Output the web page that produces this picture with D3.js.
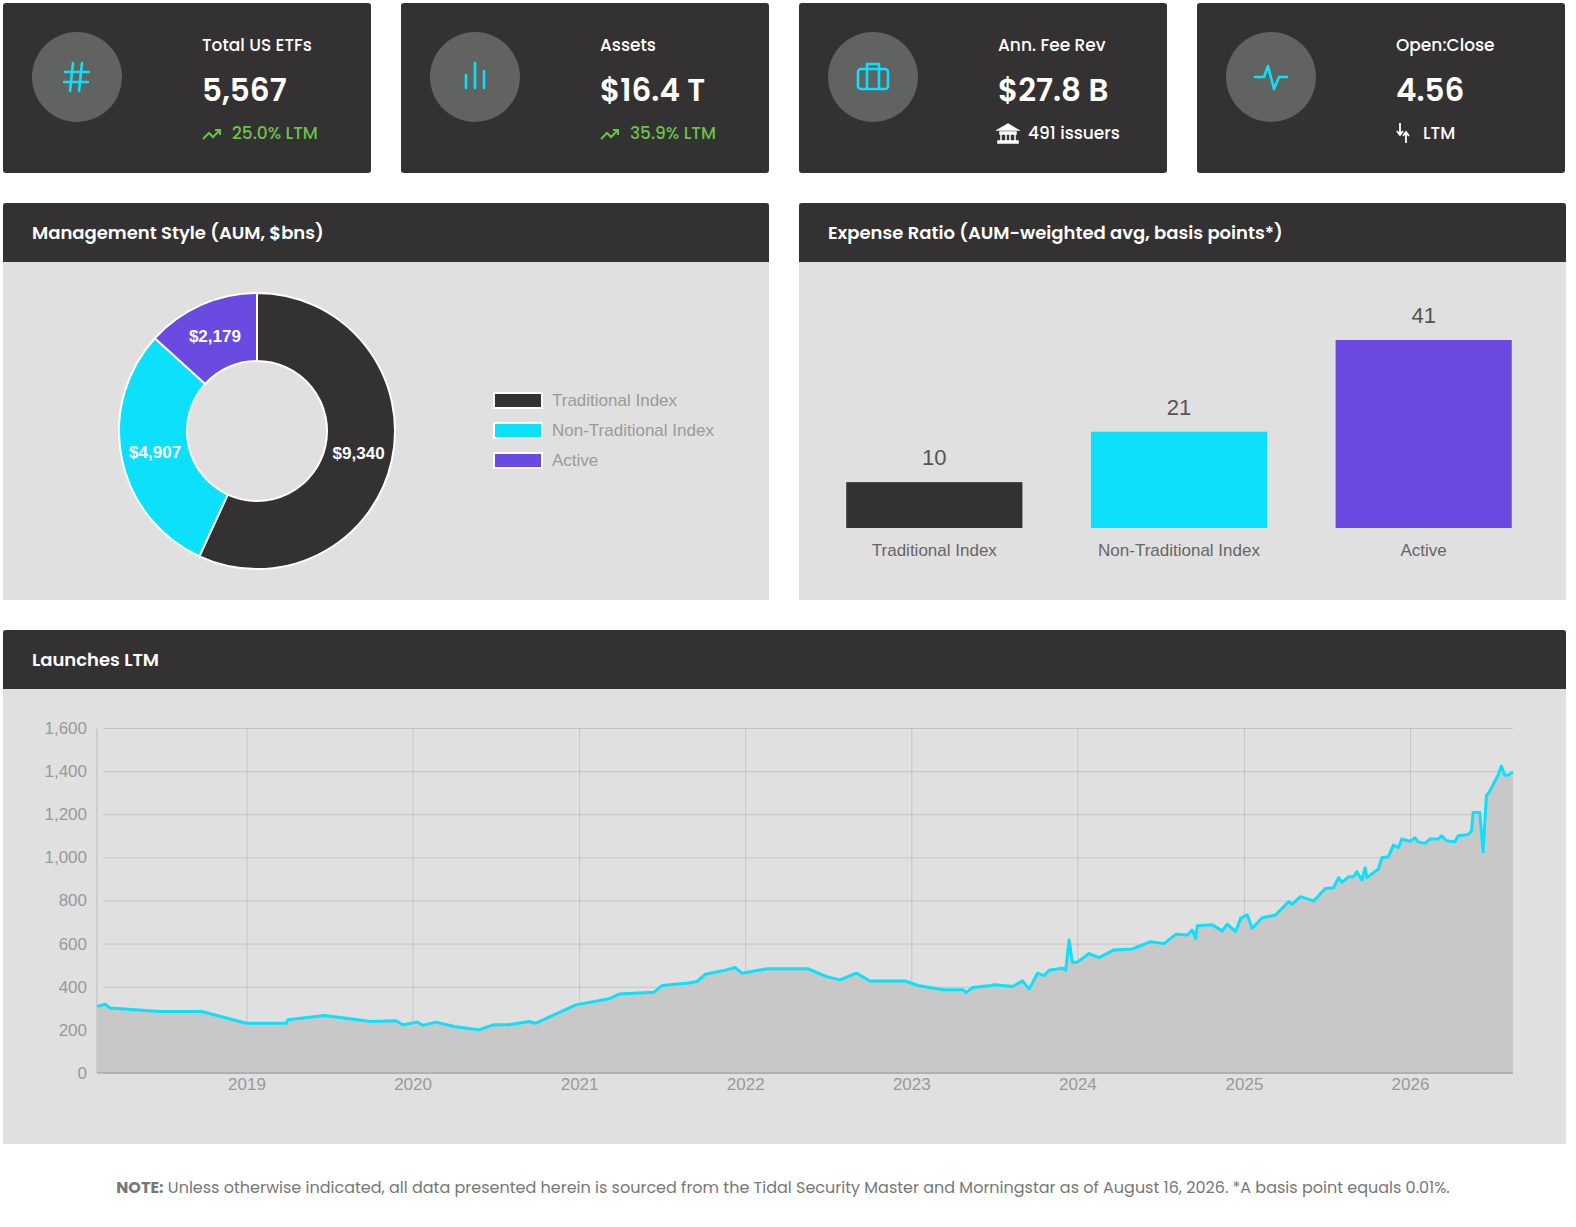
<!DOCTYPE html>
<html><head><meta charset="utf-8">
<script src="https://cdn.jsdelivr.net/npm/d3@7"></script>
<style>body{margin:0;background:#fff;}svg{display:block;}</style>
</head><body>
<div id="dash"></div>
<script>
// card stats
const cardTitles = ["Total US ETFs", "Assets", "Ann. Fee Rev", "Open:Close"];
const cardValues = ["5,567", "$16.4 T", "$27.8 B", "4.56"];
const cardSubs = ["25.0% LTM", "35.9% LTM", "491 issuers", "LTM"];

// management style (AUM, $bns)
const styleNames = ["Traditional Index", "Non-Traditional Index", "Active"];
const styleAum = [9340, 4907, 2179];
const styleColors = ["#333132", "#0ce0fa", "#6a4ae0"];

// expense ratio bps
const expenseBps = [10, 21, 41];

// launches LTM (decimal year, count)
const launchYears = [2018.10,2018.15,2018.18,2018.48,2018.73,2019.0,2019.24,2019.25,2019.47,2019.75,2019.90,2019.94,2020.03,2020.06,2020.14,2020.25,2020.35,2020.40,2020.49,2020.58,2020.70,2020.74,2020.98,2021.18,2021.24,2021.45,2021.50,2021.66,2021.71,2021.76,2021.88,2021.94,2021.98,2022.13,2022.38,2022.49,2022.57,2022.67,2022.75,2022.96,2023.04,2023.11,2023.19,2023.31,2023.33,2023.37,2023.48,2023.50,2023.61,2023.67,2023.71,2023.76,2023.80,2023.83,2023.91,2023.93,2023.95,2023.97,2024.0,2024.07,2024.13,2024.22,2024.33,2024.44,2024.52,2024.59,2024.66,2024.69,2024.71,2024.72,2024.81,2024.87,2024.90,2024.95,2024.98,2025.02,2025.05,2025.11,2025.19,2025.27,2025.29,2025.34,2025.42,2025.49,2025.54,2025.57,2025.59,2025.63,2025.66,2025.68,2025.71,2025.73,2025.74,2025.81,2025.83,2025.87,2025.90,2025.93,2025.95,2026.0,2026.03,2026.05,2026.09,2026.12,2026.17,2026.19,2026.22,2026.27,2026.29,2026.35,2026.37,2026.38,2026.42,2026.44,2026.46,2026.48,2026.53,2026.55,2026.57,2026.59,2026.62];
const launchCounts = [309,319,301,285,285,231,231,247,267,239,242,224,236,221,236,216,205,201,224,224,239,231,316,344,366,375,406,417,424,458,477,489,463,483,483,447,432,463,427,427,406,397,386,386,373,397,406,409,401,427,389,463,452,477,486,477,617,514,514,554,535,571,575,609,600,643,640,663,625,683,687,659,690,656,717,733,671,720,733,795,782,818,798,856,859,906,884,910,910,933,895,952,906,946,998,1003,1057,1045,1085,1075,1091,1072,1065,1085,1085,1100,1077,1072,1100,1106,1122,1208,1208,1026,1285,1307,1381,1424,1381,1381,1396];
const yTicks = [0,200,400,600,800,1000,1200,1400,1600];

const W = 1576, H = 1227;
const dark = "#333132", panelBg = "#e0e0e0";
const headFont = "Poppins, Inter, 'Noto Sans', sans-serif";
const chartFont = "'Liberation Sans', Arial, sans-serif";

const svg = d3.select("#dash").append("svg").attr("width", W).attr("height", H);

// ---- cards
const cardX = [3, 401, 799, 1197];
cardX.forEach((cx, i) => {
  const g = svg.append("g").attr("transform", `translate(${cx},3)`);
  g.append("rect").attr("width", 368).attr("height", 170).attr("rx", 3).attr("fill", dark);
  g.append("circle").attr("cx", 74).attr("cy", 74).attr("r", 45).attr("fill", "#616361");
  const ic = g.append("g").attr("transform", "translate(74,74)").attr("stroke", "#0ce0fa").attr("fill", "none").attr("stroke-width", 2.6).attr("stroke-linecap", "round");
  if (i == 0) {
    ic.append("path").attr("d", "M-4,-14 L-7,14 M5,-14 L2,14 M-12,-5 L12,-5 M-13,5 L11,5");
  } else if (i == 1) {
    ic.append("path").attr("d", "M-9,-2 L-9,11 M0,-14 L0,11 M9,-6 L9,11");
  } else if (i == 2) {
    ic.append("rect").attr("x", -15).attr("y", -8).attr("width", 30).attr("height", 20).attr("rx", 3);
    ic.append("path").attr("d", "M-6,-8 L-6,-13 L6,-13 L6,-8 M-6,-8 L-6,12 M6,-8 L6,12");
  } else {
    ic.append("path").attr("d", "M-16,0 L-7,0 L-3,-11 L3,12 L8,0 L16,0").attr("stroke-linejoin", "round");
  }
  g.append("text").attr("x", 199).attr("y", 48).attr("fill", "#fff").style("font", `500 17px ${headFont}`).text(cardTitles[i]);
  g.append("text").attr("x", 199).attr("y", 98).attr("fill", "#fff").style("font", `600 31px ${headFont}`).text(cardValues[i]);
  const green = i < 2;
  const sub = g.append("g").attr("transform", "translate(199,130)");
  if (green) {
    sub.append("path").attr("d", "M1,6 L7,0 L11,4 L18,-3 M13,-3 L18,-3 L18,2").attr("fill", "none").attr("stroke", "#6cc04a").attr("stroke-width", 2);
  } else if (i == 2) {
    sub.append("path").attr("d", "M0,-3 L10,-9 L20,-3 Z M2,-1 L18,-1 L18,1 L2,1 Z M0,8 L20,8 L20,10 L0,10 Z M3,1 L3,8 M8,1 L8,8 M12,1 L12,8 M17,1 L17,8").attr("fill", "#fff").attr("stroke", "#fff").attr("stroke-width", 1.5);
  } else {
    sub.append("path").attr("d", "M4,-10 L4,2 M1,-2 L4,2 L7,-2 M10,10 L10,-1 M7,3 L10,-1 L13,3").attr("fill", "none").attr("stroke", "#fff").attr("stroke-width", 1.8);
  }
  sub.append("text").attr("x", i == 3 ? 27 : 30).attr("y", 6).attr("fill", green ? "#6cc04a" : "#fff").style("font", `500 17px ${headFont}`).text(cardSubs[i]);
});

// ---- panels
function panel(x, y, w, h, title) {
  const g = svg.append("g").attr("transform", `translate(${x},${y})`);
  g.append("rect").attr("width", w).attr("height", h).attr("fill", panelBg);
  g.append("rect").attr("width", w).attr("height", 59).attr("rx", 3).attr("fill", dark);
  g.append("rect").attr("y", 50).attr("width", w).attr("height", 9).attr("fill", dark);
  g.append("text").attr("x", 29).attr("y", 36).attr("fill", "#fff").style("font", `600 18px ${headFont}`).text(title);
  return g;
}

// ---- donut
const p1 = panel(3, 203, 766, 397, "Management Style (AUM, $bns)");
const pie = d3.pie().sort(null).value(d => d)(styleAum);
const arc = d3.arc().innerRadius(70).outerRadius(138);
const dg = p1.append("g").attr("transform", "translate(254,228)");
dg.selectAll("path").data(pie).enter().append("path")
  .attr("d", arc).attr("fill", (d, i) => styleColors[i]).attr("stroke", "#fff").attr("stroke-width", 2);
const labelArc = d3.arc().innerRadius(104).outerRadius(104);
dg.selectAll("text.lbl").data(pie).enter().append("text")
  .attr("transform", d => `translate(${labelArc.centroid(d)})`)
  .attr("text-anchor", "middle").attr("dy", "0.35em").attr("fill", "#fff")
  .style("font", `bold 17px ${chartFont}`)
  .text(d => "$" + d3.format(",")(d.data));
const lg = p1.append("g").attr("transform", "translate(490,189)");
styleNames.forEach((n, i) => {
  lg.append("rect").attr("x", 1).attr("y", i * 30 + 1).attr("width", 48).attr("height", 15).attr("fill", styleColors[i]).attr("stroke", "#fff").attr("stroke-width", 2);
  lg.append("text").attr("x", 59).attr("y", i * 30 + 14).attr("fill", "#9a9a9a").style("font", `17px ${chartFont}`).text(n);
});

// ---- expense bars
const p2 = panel(799, 203, 767, 397, "Expense Ratio (AUM-weighted avg, basis points*)");
const bx = d3.scaleBand().domain(styleNames).range([35, 725]).paddingInner(0.28).paddingOuter(0.05);
const by = d3.scaleLinear().domain([0, 41]).range([325, 137]);
p2.selectAll("rect.bar").data(expenseBps).enter().append("rect")
  .attr("x", (d, i) => bx(styleNames[i])).attr("width", bx.bandwidth())
  .attr("y", d => by(d)).attr("height", d => by(0) - by(d))
  .attr("fill", (d, i) => styleColors[i]);
p2.selectAll("text.val").data(expenseBps).enter().append("text")
  .attr("x", (d, i) => bx(styleNames[i]) + bx.bandwidth() / 2).attr("y", d => by(d) - 17)
  .attr("text-anchor", "middle").attr("fill", "#555").style("font", `22px ${chartFont}`).text(d => d);
p2.selectAll("text.cat").data(styleNames).enter().append("text")
  .attr("x", d => bx(d) + bx.bandwidth() / 2).attr("y", 353)
  .attr("text-anchor", "middle").attr("fill", "#666").style("font", `17px ${chartFont}`).text(d => d);

// ---- launches line
const p3 = panel(3, 630, 1563, 514, "Launches LTM");
const toDate = y => { const yr = Math.floor(y); const s = new Date(yr, 0, 1), e = new Date(yr + 1, 0, 1); return new Date(+s + (y - yr) * (e - s)); };
const launches = launchYears.map((y, i) => ({ date: toDate(y), v: launchCounts[i] }));
const lx = d3.scaleTime().domain([toDate(2018.10), toDate(2026.62)]).range([94, 1510]);
const ly = d3.scaleLinear().domain([0, 1600]).range([443, 98]);
const lg3 = p3.append("g");
lg3.append("g").attr("transform", "translate(0,443)")
  .call(d3.axisBottom(lx).ticks(d3.timeYear.every(1)).tickSize(-345).tickFormat(d3.timeFormat("%Y")))
  .call(g => { g.select(".domain").remove(); g.selectAll("line").attr("stroke", "#000").attr("stroke-opacity", 0.12);
    g.selectAll("text").attr("dy", 14).attr("fill", "#999").style("font", `17px ${chartFont}`); });
lg3.append("g").attr("transform", "translate(94,0)")
  .call(d3.axisLeft(ly).tickValues(yTicks).tickSize(-1416).tickPadding(10).tickFormat(d3.format(",")))
  .call(g => { g.select(".domain").remove(); g.selectAll("line").attr("stroke", "#000").attr("stroke-opacity", 0.12).attr("x1", 6);
    g.selectAll("text").attr("fill", "#999").style("font", `17px ${chartFont}`); });
lg3.append("line").attr("x1", 94).attr("x2", 94).attr("y1", 98).attr("y2", 443).attr("stroke", "#000").attr("stroke-opacity", 0.15);
lg3.append("path").datum(launches)
  .attr("d", d3.area().x(d => lx(d.date)).y0(ly(0)).y1(d => ly(d.v)))
  .attr("fill", "#c8c8c8");
lg3.append("line").attr("x1", 94).attr("x2", 1510).attr("y1", 443).attr("y2", 443).attr("stroke", "#999");
lg3.append("path").datum(launches)
  .attr("d", d3.line().x(d => lx(d.date)).y(d => ly(d.v)))
  .attr("fill", "none").attr("stroke", "#0ce0fa").attr("stroke-width", 3).attr("stroke-linejoin", "round");

// ---- note
const note = svg.append("text").attr("x", 783).attr("y", 1193).attr("text-anchor", "middle")
  .attr("fill", "#777").style("font", `16px ${headFont}`);
note.append("tspan").attr("font-weight", 700).text("NOTE:");
note.append("tspan").text(" Unless otherwise indicated, all data presented herein is sourced from the Tidal Security Master and Morningstar as of August 16, 2026. *A basis point equals 0.01%.");
</script>
</body></html>
